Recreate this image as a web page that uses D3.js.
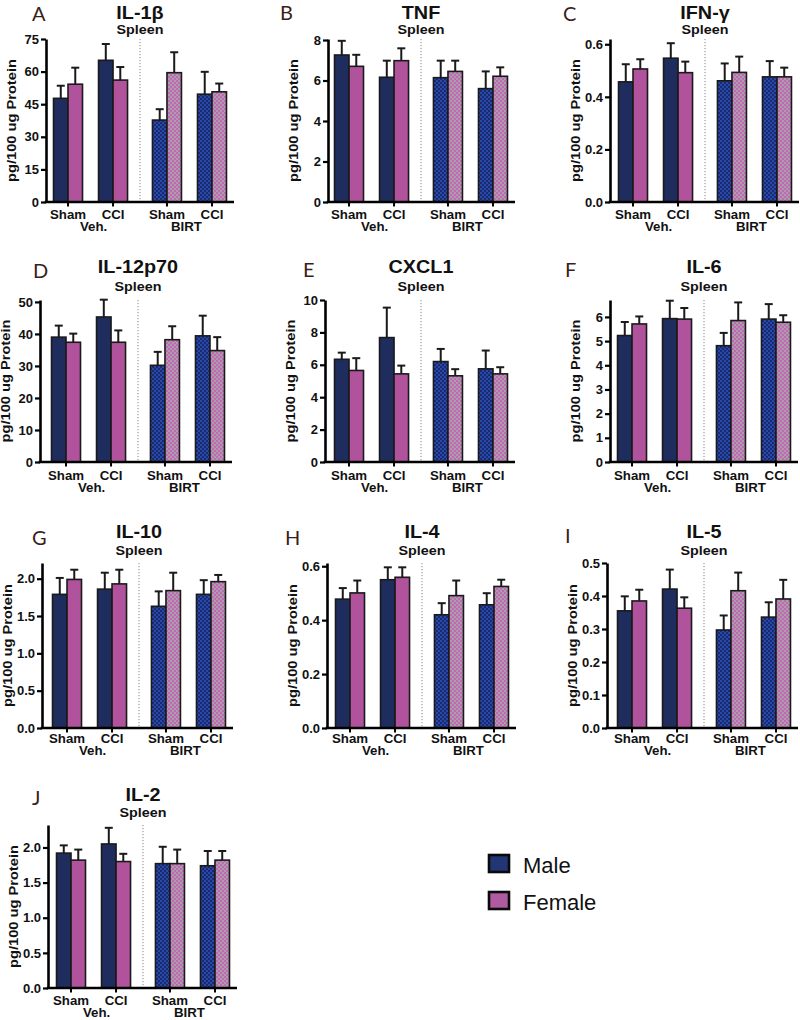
<!DOCTYPE html>
<html>
<head>
<meta charset="utf-8">
<script src="https://cdn.jsdelivr.net/npm/d3@7"></script>
<style>
  html, body { margin: 0; padding: 0; background: #fff; }
  svg { display: block; }
</style>
</head>
<body>
<svg id="chart" width="800" height="1020"></svg>
<script>
// ---------------- DATA ----------------
const panelLetters = ["A", "B", "C", "D", "E", "F", "G", "H", "I", "J"];
const cytokines = ["IL-1β", "TNF", "IFN-γ", "IL-12p70", "CXCL1", "IL-6", "IL-10", "IL-4", "IL-5", "IL-2"];
const tissue = "Spleen";
const treatments = ["Veh.", "BIRT"];
const conditions = ["Sham", "CCI"];
const sexes = ["Male", "Female"];
// order of values: Veh-Sham M, Veh-Sham F, Veh-CCI M, Veh-CCI F, BIRT-Sham M, BIRT-Sham F, BIRT-CCI M, BIRT-CCI F
const meanIL1b   = [47.7, 54.2, 65.2, 56.1, 37.7, 59.5, 49.6, 50.7];
const semIL1b    = [5.8, 7.6, 7.5, 6.0, 5.0, 9.4, 10.3, 3.8];
const meanTNF    = [7.26, 6.70, 6.16, 6.98, 6.14, 6.45, 5.60, 6.21];
const semTNF     = [0.70, 0.57, 0.82, 0.61, 0.84, 0.53, 0.85, 0.44];
const meanIFNg   = [0.457, 0.506, 0.547, 0.492, 0.461, 0.493, 0.476, 0.476];
const semIFNg    = [0.067, 0.037, 0.057, 0.042, 0.066, 0.060, 0.060, 0.035];
const meanIL12   = [39.0, 37.4, 45.3, 37.4, 30.2, 38.2, 39.4, 34.8];
const semIL12    = [3.6, 2.7, 5.4, 3.7, 4.2, 4.2, 6.3, 4.2];
const meanCXCL1  = [6.34, 5.65, 7.68, 5.44, 6.20, 5.32, 5.75, 5.44];
const semCXCL1   = [0.41, 0.76, 1.85, 0.51, 0.78, 0.41, 1.13, 0.41];
const meanIL6    = [5.23, 5.71, 5.93, 5.91, 4.81, 5.85, 5.91, 5.78];
const semIL6     = [0.56, 0.31, 0.74, 0.46, 0.53, 0.75, 0.62, 0.29];
const meanIL10   = [1.79, 1.99, 1.86, 1.93, 1.63, 1.84, 1.79, 1.96];
const semIL10    = [0.22, 0.13, 0.22, 0.19, 0.20, 0.24, 0.19, 0.09];
const meanIL4    = [0.478, 0.501, 0.550, 0.559, 0.420, 0.491, 0.457, 0.525];
const semIL4     = [0.041, 0.046, 0.046, 0.037, 0.043, 0.056, 0.043, 0.025];
const meanIL5    = [0.355, 0.385, 0.421, 0.363, 0.297, 0.416, 0.336, 0.391];
const semIL5     = [0.044, 0.034, 0.059, 0.033, 0.044, 0.055, 0.045, 0.058];
const meanIL2    = [1.92, 1.82, 2.05, 1.80, 1.77, 1.77, 1.74, 1.82];
const semIL2     = [0.11, 0.15, 0.23, 0.11, 0.24, 0.20, 0.21, 0.13];
const allMeans = [meanIL1b, meanTNF, meanIFNg, meanIL12, meanCXCL1, meanIL6, meanIL10, meanIL4, meanIL5, meanIL2];
const allSems  = [semIL1b, semTNF, semIFNg, semIL12, semCXCL1, semIL6, semIL10, semIL4, semIL5, semIL2];
// axis maxima and tick labels
const yMax = [75, 8.05, 0.62, 50.6, 10, 6.7, 2.21, 0.612, 0.5, 2.32];
const yTicks = [
  [0, 15, 30, 45, 60, 75],
  [0, 2, 4, 6, 8],
  [0, 0.2, 0.4, 0.6],
  [0, 10, 20, 30, 40, 50],
  [0, 2, 4, 6, 8, 10],
  [0, 1, 2, 3, 4, 5, 6],
  [0, 0.5, 1.0, 1.5, 2.0],
  [0, 0.2, 0.4, 0.6],
  [0, 0.1, 0.2, 0.3, 0.4, 0.5],
  [0, 0.5, 1.0, 1.5, 2.0]
];
const yFormats = ["d", "d", ".1f", "d", "d", "d", ".1f", ".1f", ".1f", ".1f"];
const yLabel = "pg/100 ug Protein";

// ---------------- LAYOUT ----------------
const barOrigin = [46, 327, 611, 44, 327, 610, 45, 328, 610, 49];
const axisX     = [46, 328, 610, 40, 325, 610, 42, 327, 607, 48];
const rowTop    = [39, 300, 563, 825];
const rowZero   = [202, 462, 728, 988];
const rowTitle  = [18.5, 273, 538, 801];
const rowSub    = [33.5, 291, 555, 817];
const rowXLab   = [218.5, 480, 743, 1005];
const letterX   = [32, 280, 563, 33, 303, 565, 32, 285, 565, 32];
const letterY   = [21, 20, 21, 278, 277, 277, 545, 545, 543, 805];
const plotW = 188;

const FONT = "'Liberation Sans', Arial, Helvetica, sans-serif";
const colMale = "#1f2d5e", colFemale = "#b0529c";

const svg = d3.select("#chart");
const defs = svg.append("defs");
function checker(id, c1, c2) {
  const p = defs.append("pattern").attr("id", id).attr("patternUnits", "userSpaceOnUse")
    .attr("width", 4).attr("height", 4);
  p.append("rect").attr("width", 4).attr("height", 4).attr("fill", c1);
  p.append("rect").attr("width", 2).attr("height", 2).attr("fill", c2);
  p.append("rect").attr("x", 2).attr("y", 2).attr("width", 2).attr("height", 2).attr("fill", c2);
}
checker("patM", "#182b70", "#2a48a8");
checker("patF", "#ab9dab", "#c167b4");

function fillFor(t, s) {
  if (t === "Veh.") return s === "Male" ? colMale : colFemale;
  return s === "Male" ? "url(#patM)" : "url(#patF)";
}

function stretchedText(g, x, y, txt, size, sx, anchor, weight, rot) {
  return g.append("text")
    .attr("transform", `translate(${x},${y})` + (rot ? ` rotate(${rot})` : "") + ` scale(${sx},1)`)
    .attr("text-anchor", anchor)
    .attr("font-family", FONT)
    .attr("font-weight", weight)
    .attr("font-size", size)
    .attr("fill", "#111")
    .text(txt);
}

cytokines.forEach((name, i) => {
  const row = Math.floor(i / 3);
  const top = rowTop[row], zero = rowZero[row];
  const ox = barOrigin[i], ax = axisX[i];
  const g = svg.append("g");

  const y = d3.scaleLinear().domain([0, yMax[i]]).range([zero, top]);
  const xT = d3.scaleBand().domain(treatments).range([ox, ox + plotW]).paddingInner(0.1).paddingOuter(0);
  const xC = d3.scaleBand().domain(conditions).range([0, xT.bandwidth()]).paddingInner(0.356).paddingOuter(0.167);
  const xS = d3.scaleBand().domain(sexes).range([0, xC.bandwidth()]).padding(0);

  const dividerX = (xT("Veh.") + xT.bandwidth() + xT("BIRT")) / 2;

  // dotted divider
  g.append("line").attr("x1", dividerX).attr("x2", dividerX)
    .attr("y1", top).attr("y2", zero)
    .attr("stroke", "#888").attr("stroke-width", 1).attr("stroke-dasharray", "1.2,1.8");

  // records
  const recs = [];
  treatments.forEach((t, ti) => conditions.forEach((c, ci) => sexes.forEach((s, si) => {
    const k = ti * 4 + ci * 2 + si;
    recs.push({ t, c, s, m: allMeans[i][k], e: allSems[i][k] });
  })));

  // error bars (behind bars)
  recs.forEach(d => {
    const cx = xT(d.t) + xC(d.c) + xS(d.s) + xS.bandwidth() / 2;
    g.append("line").attr("x1", cx).attr("x2", cx).attr("y1", y(d.m)).attr("y2", y(d.m + d.e))
      .attr("stroke", "#1a1a1a").attr("stroke-width", 2);
    g.append("line").attr("x1", cx - 4).attr("x2", cx + 4).attr("y1", y(d.m + d.e)).attr("y2", y(d.m + d.e))
      .attr("stroke", "#1a1a1a").attr("stroke-width", 2);
  });
  // bars
  g.selectAll("rect.bar").data(recs).enter().append("rect")
    .attr("x", d => xT(d.t) + xC(d.c) + xS(d.s))
    .attr("width", xS.bandwidth())
    .attr("y", d => y(d.m))
    .attr("height", d => zero - y(d.m))
    .attr("fill", d => fillFor(d.t, d.s))
    .attr("stroke", "#1a1a1a").attr("stroke-width", 1.6);

  // y axis
  const ya = g.append("g").attr("transform", `translate(${ax},0)`)
    .call(d3.axisLeft(y).tickValues(yTicks[i]).tickFormat(d3.format(yFormats[i]))
      .tickSize(5).tickSizeOuter(0).tickPadding(2));
  ya.select(".domain").attr("stroke", "#000").attr("stroke-width", 2.6);
  ya.selectAll(".tick line").attr("stroke", "#000").attr("stroke-width", 2.2);
  ya.selectAll(".tick text").attr("font-family", FONT).attr("font-weight", "bold")
    .attr("font-size", 13).attr("fill", "#111");

  // x axis baseline
  g.append("line").attr("x1", ax - 1.3).attr("x2", ox + plotW).attr("y1", zero).attr("y2", zero)
    .attr("stroke", "#000").attr("stroke-width", 2.6);
  // x ticks at condition centres
  recs.filter(d => d.s === "Male").forEach(d => {
    const cx = xT(d.t) + xC(d.c) + xC.bandwidth() / 2;
    g.append("line").attr("x1", cx).attr("x2", cx).attr("y1", zero).attr("y2", zero + 4.5)
      .attr("stroke", "#000").attr("stroke-width", 2);
    stretchedText(g, cx, rowXLab[row], d.c, 12.5, 1.06, "middle", "bold");
  });
  treatments.forEach((t, ti) => {
    const cx = xT(t) + xT.bandwidth() / 2 + (ti === 0 ? 3 : -3);
    stretchedText(g, cx, rowXLab[row] + 12, t, 12.5, 1.06, "middle", "bold");
  });

  // y label
  stretchedText(g, ax - 30, (top + zero) / 2, yLabel, 12.2, 1.2, "middle", "bold", -90);

  // title and subtitle
  stretchedText(g, dividerX, rowTitle[row], name, 18, 1.1, "middle", "bold");
  stretchedText(g, dividerX, rowSub[row], tissue, 13, 1.1, "middle", "bold");

  // panel letter
  g.append("text").attr("x", letterX[i]).attr("y", letterY[i])
    .attr("font-family", "Lato, 'Open Sans', sans-serif").attr("font-size", 20)
    .attr("fill", "#3a1e17").text(panelLetters[i]);
});

// legend
const leg = svg.append("g");
sexes.forEach((s, k) => {
  const yy = 855 + k * 37;
  leg.append("rect").attr("x", 489).attr("y", yy).attr("width", 20).attr("height", 17)
    .attr("fill", k === 0 ? "#223574" : "#b05a9f").attr("stroke", "#0a0a0a").attr("stroke-width", 2.6);
  leg.append("text").attr("x", 523).attr("y", yy + 18).attr("font-family", FONT)
    .attr("font-size", 22).attr("fill", "#111").text(s);
});
</script>
</body>
</html>
